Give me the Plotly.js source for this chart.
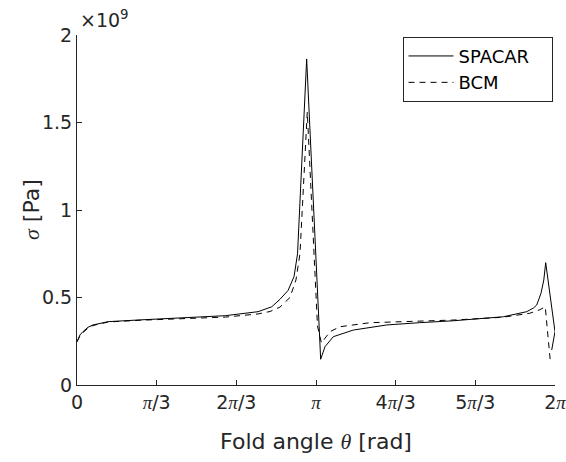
<!DOCTYPE html>
<html>
<head>
<meta charset="utf-8">
<script src="https://cdn.plot.ly/plotly-3.0.1.min.js"></script>
<style>html,body{margin:0;padding:0;background:#fff;}#chart{width:566px;height:462px;}</style>
</head>
<body>
<div id="chart"></div>
<script>
// Fold angle theta [rad] and stress sigma [x1e9 Pa]
const thetaSpacar = [0, 0.039, 0.079, 0.145, 0.21, 0.41, 0.83, 1.29, 1.95, 2.38, 2.56, 2.668, 2.774, 2.853, 2.899, 3.019, 3.203, 3.26, 3.369, 3.632, 4.071, 4.50, 4.946, 5.604, 5.911, 6.0, 6.043, 6.099, 6.136, 6.161, 6.283, 6.240];
const sigmaSpacar = [0.247, 0.286, 0.305, 0.33, 0.343, 0.362, 0.372, 0.381, 0.396, 0.419, 0.447, 0.49, 0.54, 0.62, 0.75, 1.863, 0.147, 0.219, 0.276, 0.314, 0.343, 0.356, 0.367, 0.39, 0.419, 0.44, 0.457, 0.524, 0.60, 0.699, 0.305, 0.20];
const thetaBcm = [0, 0.039, 0.079, 0.145, 0.21, 0.41, 0.83, 1.29, 1.95, 2.38, 2.537, 2.668, 2.799, 2.878, 2.931, 3.027, 3.161, 3.213, 3.260, 3.326, 3.457, 3.852, 4.940, 5.597, 5.952, 6.083, 6.155, 6.224];
const sigmaBcm = [0.247, 0.28, 0.30, 0.325, 0.34, 0.36, 0.37, 0.378, 0.388, 0.406, 0.42, 0.445, 0.50, 0.60, 0.75, 1.56, 0.337, 0.24, 0.267, 0.305, 0.333, 0.356, 0.371, 0.387, 0.41, 0.43, 0.447, 0.124];
const seriesNames = ["SPACAR", "BCM"];
const xTickVals = [0, Math.PI/3, 2*Math.PI/3, Math.PI, 4*Math.PI/3, 5*Math.PI/3, 2*Math.PI];
const PI = "<span style='font-family:\"Liberation Serif\"'><i>π</i></span>";
const xTickText = ["0", PI + "/3", "2" + PI + "/3", PI, "4" + PI + "/3", "5" + PI + "/3", "2" + PI];
const yTickVals = [0, 0.5, 1, 1.5, 2];
const yTickText = ["0", "0.5", "1", "1.5", "2"];

const axisColor = "#262626";
const font = "DejaVu Sans";
const pad = "\u00a0\u00a0\u00a0";

const traces = [
  {x: thetaSpacar, y: sigmaSpacar, name: seriesNames[0] + pad, mode: "lines",
   line: {color: "#000", width: 1}},
  {x: thetaBcm, y: sigmaBcm, name: seriesNames[1], mode: "lines",
   line: {color: "#000", width: 1, dash: "6px,5px"}}
];

const layout = {
  width: 566, height: 462,
  margin: {l: 77, r: 11, t: 35, b: 77},
  paper_bgcolor: "#fff", plot_bgcolor: "#fff",
  font: {family: font, color: axisColor, size: 19},
  showlegend: true,
  legend: {x: 0.681, y: 0.995, xanchor: "left", yanchor: "top",
           bordercolor: axisColor, borderwidth: 1, bgcolor: "#fff",
           font: {family: font, size: 18, color: "#000"},
           itemwidth: 45, tracegroupgap: 0},
  xaxis: {range: [0, 2*Math.PI], tickvals: xTickVals, ticktext: xTickText,
          ticks: "inside", ticklen: 5, tickcolor: axisColor, tickwidth: 1,
          showline: true, linecolor: axisColor, linewidth: 1, mirror: false,
          showgrid: false, zeroline: false, ticklabeloverflow: "allow",
          tickfont: {family: font, size: 19, color: axisColor},
          title: {text: "Fold angle <span style='font-family:\"Liberation Serif\"'><i>θ</i></span> [rad]",
                  font: {family: font, size: 22, color: axisColor}, standoff: 21}},
  yaxis: {range: [0, 2], tickvals: yTickVals, ticktext: yTickText,
          ticks: "inside", ticklen: 5, tickcolor: axisColor, tickwidth: 1,
          showline: true, linecolor: axisColor, linewidth: 1, mirror: false,
          showgrid: false, zeroline: false,
          tickfont: {family: font, size: 19, color: axisColor}},
  annotations: [
    {xref: "paper", yref: "paper", x: 0, y: 1, xanchor: "left", yanchor: "bottom",
     xshift: 1, yshift: 2, showarrow: false,
     text: "×10<sup>9</sup>", font: {family: font, size: 19, color: axisColor}},
    {xref: "paper", yref: "paper", x: 0, y: 0.5, xanchor: "center", yanchor: "middle",
     xshift: -46, showarrow: false, textangle: -90,
     text: "<span style='font-family:\"Liberation Serif\"'><i>σ</i></span> [Pa]",
     font: {family: font, size: 22, color: axisColor}}
  ]
};

Plotly.newPlot("chart", traces, layout, {displayModeBar: false, staticPlot: true});
</script>
</body>
</html>
